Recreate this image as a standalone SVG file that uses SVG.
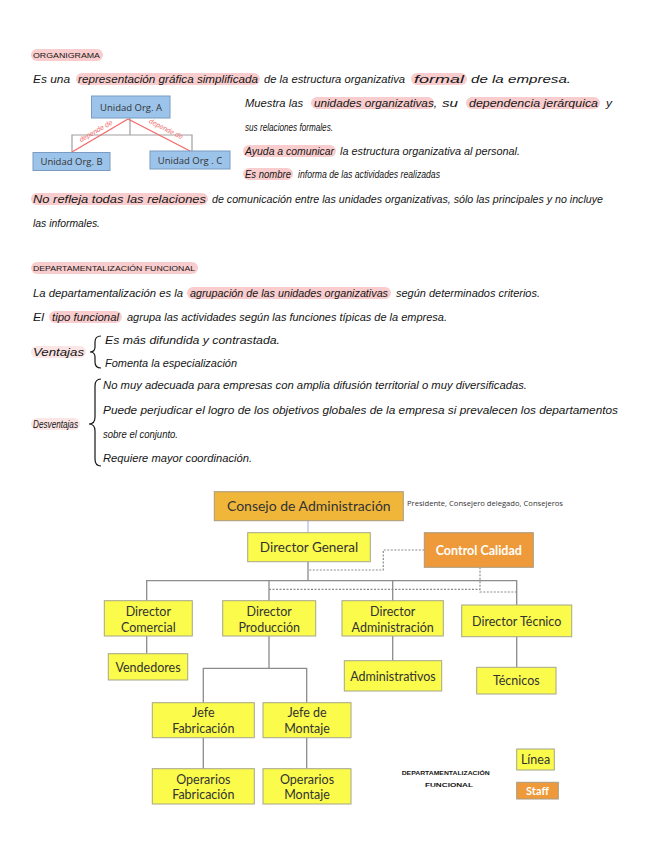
<svg xmlns="http://www.w3.org/2000/svg" width="656" height="848" viewBox="0 0 656 848">
<style>
.h{font-family:"Liberation Sans",Arial,sans-serif;font-style:italic;font-size:10px;fill:#151515}
.cap{font-family:"Liberation Sans",Arial,sans-serif;font-size:8px;fill:#151515}
.hl{fill:#f8c4c4;opacity:0.85}
.hlf{fill:#f8d4d4;opacity:0.6}
.brace{fill:none;stroke:#151515;stroke-width:1.2}
.ub{fill:#9cc3ea;stroke:#7a9cc2;stroke-width:1}
.ut{font-family:"Open Sans","Liberation Sans",sans-serif;font-size:9.5px;fill:#333;text-anchor:middle}
.red{stroke:#f26b6b;stroke-width:1.4;fill:none}
.rt{font-family:"Liberation Sans",sans-serif;font-style:italic;font-size:7px;fill:#f26b6b;text-anchor:middle}
.gl{stroke:#a0a0a0;stroke-width:1.2;fill:none}
.y{fill:#fbfb4c;stroke:#a6a68a;stroke-width:1}
.o1{fill:#f0b63a;stroke:#a89a80;stroke-width:1}
.o2{fill:#ef9a3a;stroke:#a89a80;stroke-width:1}
.t{font-family:Lato,"Open Sans",sans-serif;font-size:12.5px;fill:#333;text-anchor:middle}
.tw{font-family:Lato,"Open Sans",sans-serif;font-size:12.5px;fill:#fff;text-anchor:middle;font-weight:bold}
.c{stroke:#8c8c8c;stroke-width:1.3;fill:none}
.d{stroke:#8c8c8c;stroke-width:1.2;fill:none;stroke-dasharray:2 1.5}
</style>

<!-- highlights -->
<rect class="hl" x="31" y="49" width="72" height="12" rx="6"/>
<rect class="hl" x="76" y="73" width="184" height="12" rx="6"/>
<rect class="hl" x="411" y="73" width="56" height="12" rx="6"/>
<rect class="hl" x="311" y="97" width="123" height="12" rx="6"/>
<rect class="hl" x="466" y="97" width="134" height="12" rx="6"/>
<rect class="hl" x="243" y="145" width="93" height="12" rx="6"/>
<rect class="hl" x="243" y="168" width="50" height="12" rx="6"/>
<rect class="hl" x="31" y="193" width="177" height="12" rx="6"/>
<rect class="hl" x="31" y="262" width="167" height="12" rx="6"/>
<rect class="hl" x="187" y="287" width="204" height="12" rx="6"/>
<rect class="hl" x="49" y="311" width="73" height="12" rx="6"/>
<rect class="hlf" x="31" y="346" width="55" height="12" rx="6"/>
<rect class="hlf" x="31" y="418" width="49" height="12" rx="6"/>

<!-- ORGANIGRAMA section -->
<text class="cap" x="33" y="58" textLength="67" lengthAdjust="spacingAndGlyphs">ORGANIGRAMA</text>
<text class="h" y="83"><tspan x="33" textLength="37" lengthAdjust="spacingAndGlyphs">Es una</tspan><tspan x="78" textLength="180" lengthAdjust="spacingAndGlyphs">representación gráfica simplificada</tspan><tspan x="264" textLength="141" lengthAdjust="spacingAndGlyphs">de la estructura organizativa</tspan><tspan x="414" textLength="50" lengthAdjust="spacingAndGlyphs">formal</tspan><tspan x="471" textLength="100" lengthAdjust="spacingAndGlyphs">de la empresa.</tspan></text>
<text class="h" y="107"><tspan x="245" textLength="58" lengthAdjust="spacingAndGlyphs">Muestra las</tspan><tspan x="314" textLength="123" lengthAdjust="spacingAndGlyphs">unidades organizativas,</tspan><tspan x="442" textLength="16" lengthAdjust="spacingAndGlyphs">su</tspan><tspan x="469" textLength="129" lengthAdjust="spacingAndGlyphs">dependencia jerárquica</tspan><tspan x="606" textLength="6" lengthAdjust="spacingAndGlyphs">y</tspan></text>
<text class="h" x="245" y="131" textLength="88" lengthAdjust="spacingAndGlyphs">sus relaciones formales.</text>
<text class="h" y="155"><tspan x="245" textLength="89" lengthAdjust="spacingAndGlyphs">Ayuda a comunicar</tspan><tspan x="340" textLength="180" lengthAdjust="spacingAndGlyphs">la estructura organizativa al personal.</tspan></text>
<text class="h" y="178"><tspan x="245" textLength="46" lengthAdjust="spacingAndGlyphs">Es nombre</tspan><tspan x="298" textLength="142" lengthAdjust="spacingAndGlyphs">informa de las actividades realizadas</tspan></text>
<text class="h" y="203"><tspan x="33" textLength="173" lengthAdjust="spacingAndGlyphs">No refleja todas las relaciones</tspan><tspan x="212" textLength="391" lengthAdjust="spacingAndGlyphs">de comunicación entre las unidades organizativas, sólo las principales y no incluye</tspan></text>
<text class="h" x="33" y="227" textLength="67" lengthAdjust="spacingAndGlyphs">las informales.</text>

<!-- mini organigram -->
<g id="mini-connectors">
<path class="gl" d="M130 118 V135 M72 152 V135 H192 V152"/>
<path class="red" d="M128 119 L72 152 M128 119 L192 152"/>
<text class="rt" transform="translate(97 133) rotate(-30)">depende de</text>
<text class="rt" transform="translate(165 131) rotate(27)">depende de</text>
</g>
<g id="unidad-a"><rect class="ub" x="91.5" y="96" width="78.5" height="22"/><text class="ut" x="131" y="110.5">Unidad Org. A</text></g>
<g id="unidad-b"><rect class="ub" x="33" y="152.5" width="77" height="18"/><text class="ut" x="71.5" y="165">Unidad Org. B</text></g>
<g id="unidad-c"><rect class="ub" x="150" y="151" width="80" height="18"/><text class="ut" x="190" y="163.5">Unidad Org . C</text></g>

<!-- DEPARTAMENTALIZACION section -->
<text class="cap" x="33" y="271" textLength="162" lengthAdjust="spacingAndGlyphs">DEPARTAMENTALIZACIÓN   FUNCIONAL</text>
<text class="h" y="297"><tspan x="33" textLength="150" lengthAdjust="spacingAndGlyphs">La departamentalización es la</tspan><tspan x="190" textLength="198" lengthAdjust="spacingAndGlyphs">agrupación de las unidades organizativas</tspan><tspan x="396" textLength="144" lengthAdjust="spacingAndGlyphs">según determinados criterios.</tspan></text>
<text class="h" y="321"><tspan x="33" textLength="11" lengthAdjust="spacingAndGlyphs">El</tspan><tspan x="52" textLength="67" lengthAdjust="spacingAndGlyphs">tipo funcional</tspan><tspan x="127" textLength="320" lengthAdjust="spacingAndGlyphs">agrupa las actividades según las funciones típicas de la empresa.</tspan></text>

<text class="h" x="33" y="356" textLength="51" lengthAdjust="spacingAndGlyphs">Ventajas</text>
<path class="brace" d="M101 336 Q95 336 95 342 V347 Q95 352 90 352 Q95 352 95 357 V362 Q95 368 101 368"/>
<text class="h" x="105" y="344" textLength="175" lengthAdjust="spacingAndGlyphs">Es más difundida y contrastada.</text>
<text class="h" x="105" y="367" textLength="132" lengthAdjust="spacingAndGlyphs">Fomenta la especialización</text>

<text class="h" x="33" y="428" textLength="45" lengthAdjust="spacingAndGlyphs">Desventajas</text>
<path class="brace" d="M101 379 Q95 379 95 386 V417 Q95 424 89 424 Q95 424 95 431 V459 Q95 466 101 466"/>
<text class="h" x="103" y="389" textLength="424" lengthAdjust="spacingAndGlyphs">No muy adecuada para empresas con amplia difusión territorial o muy diversificadas.</text>
<text class="h" x="103" y="414" textLength="515" lengthAdjust="spacingAndGlyphs">Puede perjudicar el logro de los objetivos globales de la empresa si prevalecen los departamentos</text>
<text class="h" x="103" y="438" textLength="75" lengthAdjust="spacingAndGlyphs">sobre el conjunto.</text>
<text class="h" x="103" y="462" textLength="149" lengthAdjust="spacingAndGlyphs">Requiere mayor coordinación.</text>

<!-- connectors -->
<g id="connectors">
<path d="M308 520.7 V532.7" stroke="#9aa6e0" stroke-width="1" fill="none"/>
<path class="c" d="M308 561.7 V580.7 M146.7 600.7 V580.7 H516.7 V605 M269 580.7 V600.7 M392.7 580.7 V600.7"/>
<path class="c" d="M146.7 636 V653.7 M392.7 636 V660.7 M516.7 636.7 V667.3"/>
<path class="c" d="M269 636 V668.3 M203.3 702.7 V668.3 H306.7 V702.7"/>
<path class="c" d="M203.3 737.7 V768.7 M306.7 737.7 V768.7"/>
<path class="d" d="M424.3 550 H383.3 V570 H308"/>
<path class="d" d="M480 567.3 V592 H516.7 M269 589.3 H480"/>
</g>

<!-- nodes -->
<g id="consejo"><rect class="o1" x="214.3" y="491.7" width="189" height="29"/><text class="t" x="308.8" y="511" style="font-size:14px">Consejo de Administración</text></g>
<text x="407" y="506" style="font-family:'Open Sans','Liberation Sans',sans-serif;font-size:7px;fill:#333" textLength="156" lengthAdjust="spacingAndGlyphs">Presidente, Consejero delegado, Consejeros</text>
<g id="director-general"><rect class="y" x="247.7" y="532.7" width="122.6" height="29"/><text class="t" x="309" y="552" style="font-size:13.5px">Director General</text></g>
<g id="control-calidad"><rect class="o2" x="424.3" y="532.7" width="109" height="34.6"/><text class="tw" x="478.8" y="554.5">Control Calidad</text></g>

<g id="dir-comercial"><rect class="y" x="104.3" y="600.7" width="88" height="35.3"/><text class="t" x="148.3" y="615.5">Director</text><text class="t" x="148.3" y="631.5">Comercial</text></g>
<g id="dir-produccion"><rect class="y" x="222.7" y="600.7" width="93" height="35.3"/><text class="t" x="269.2" y="615.5">Director</text><text class="t" x="269.2" y="631.5">Producción</text></g>
<g id="dir-administracion"><rect class="y" x="342" y="600.7" width="101.3" height="35.3"/><text class="t" x="392.7" y="615.5">Director</text><text class="t" x="392.7" y="631.5">Administración</text></g>
<g id="dir-tecnico"><rect class="y" x="461.7" y="605" width="110" height="31.7"/><text class="t" x="516.7" y="625.5">Director Técnico</text></g>

<g id="vendedores"><rect class="y" x="108.3" y="653.7" width="79.4" height="26.3"/><text class="t" x="148" y="671.5">Vendedores</text></g>
<g id="administrativos"><rect class="y" x="344.3" y="660.7" width="97.4" height="30.3"/><text class="t" x="393" y="680.5">Administrativos</text></g>
<g id="tecnicos"><rect class="y" x="476.7" y="667.3" width="79.3" height="26.7"/><text class="t" x="516.3" y="685">Técnicos</text></g>

<g id="jefe-fabricacion"><rect class="y" x="152.3" y="702.7" width="102" height="35"/><text class="t" x="203.3" y="717">Jefe</text><text class="t" x="203.3" y="732.5">Fabricación</text></g>
<g id="jefe-montaje"><rect class="y" x="263" y="702.7" width="88" height="35"/><text class="t" x="307" y="717">Jefe de</text><text class="t" x="307" y="732.5">Montaje</text></g>
<g id="operarios-fabricacion"><rect class="y" x="152.3" y="768.7" width="102" height="35.3"/><text class="t" x="203.3" y="783.5">Operarios</text><text class="t" x="203.3" y="799">Fabricación</text></g>
<g id="operarios-montaje"><rect class="y" x="263" y="768.7" width="88" height="35.3"/><text class="t" x="307" y="783.5">Operarios</text><text class="t" x="307" y="799">Montaje</text></g>

<g id="leyenda-linea"><rect class="y" x="516.7" y="749" width="37.6" height="21"/><text class="t" x="535.5" y="764">Línea</text></g>
<g id="leyenda-staff"><rect class="o2" x="516.7" y="782.3" width="41.6" height="16.7"/><text class="tw" x="537.5" y="794.5" style="font-size:11px">Staff</text></g>

<text x="401.7" y="775" style="font-family:'Liberation Sans',sans-serif;font-size:6px;fill:#151515;font-weight:bold" textLength="88" lengthAdjust="spacingAndGlyphs">DEPARTAMENTALIZACIÓN</text>
<text x="425" y="787" style="font-family:'Liberation Sans',sans-serif;font-size:6px;fill:#151515;font-weight:bold" textLength="48" lengthAdjust="spacingAndGlyphs">FUNCIONAL</text>
</svg>
